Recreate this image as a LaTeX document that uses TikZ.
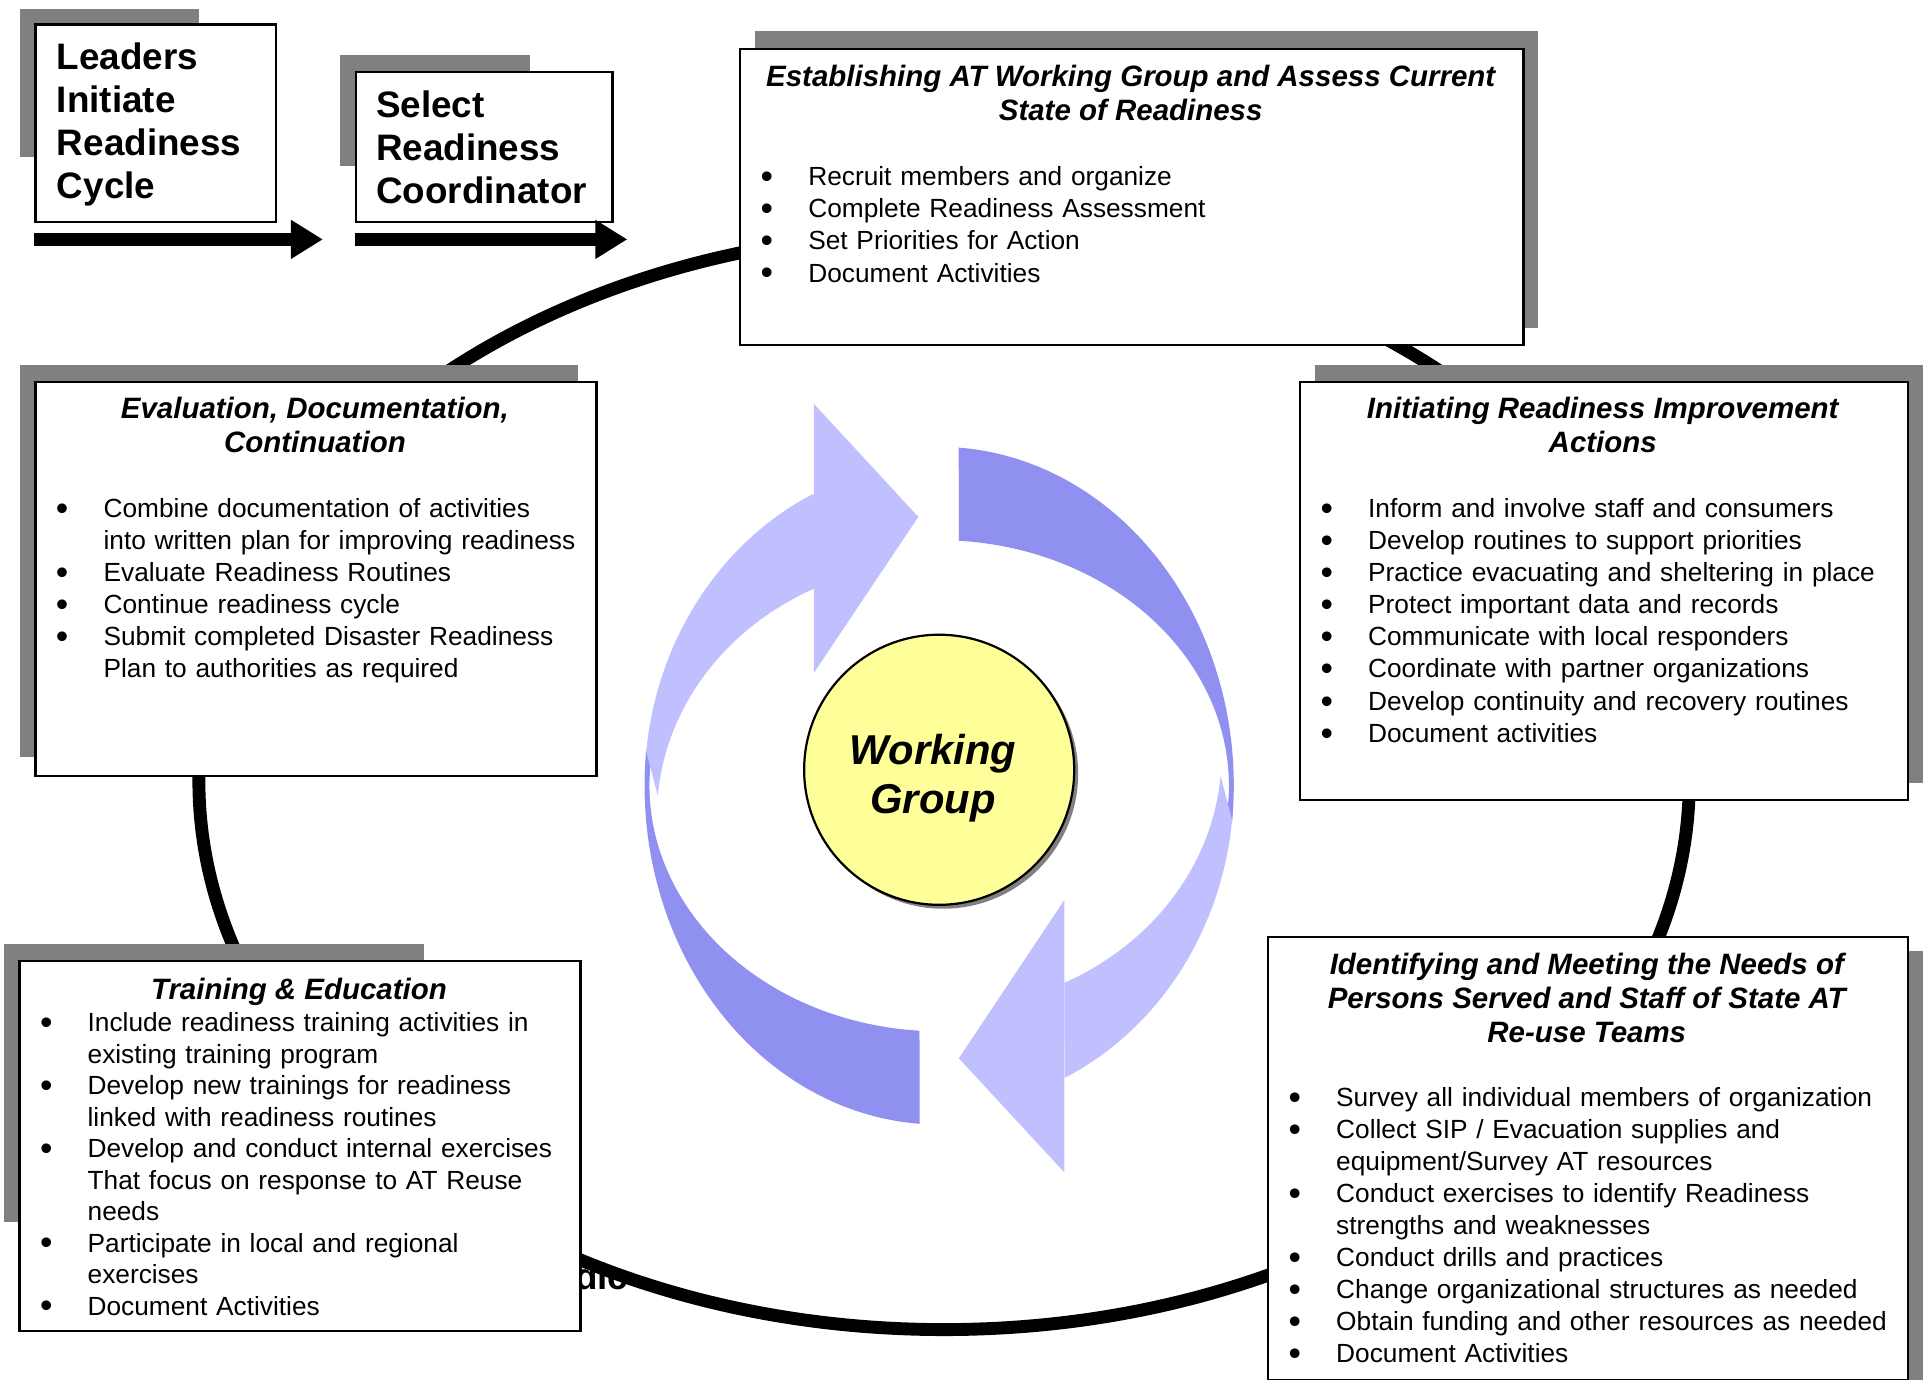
\documentclass[tikz,border=0pt]{standalone}
\usepackage{fontspec}
\setmainfont{Liberation Sans}
\usepackage{xcolor}
\usepackage{tikz}
\usetikzlibrary{arrows.meta, calc, shadows}

\definecolor{boxshade}{RGB}{128,128,128}
\definecolor{bandlight}{RGB}{192,192,255}
\definecolor{banddark}{RGB}{144,144,240}
\definecolor{wgyellow}{RGB}{255,255,153}

\newcommand{\bodysize}{\fontsize{10.7}{13.1}\selectfont}
\newcommand{\dotmark}{\raisebox{-1.2pt}{\scalebox{1.35}{\textbullet}}}
\newcommand{\bpoint}[1]{\hangindent=28pt\hangafter=1\noindent\rule{0pt}{9pt}\hspace*{8.6pt}\makebox[19.4pt][l]{\dotmark}#1\par}

\tikzstyle{phase} = [rectangle, draw, line width=0.9pt, fill=white, anchor=north west, inner sep=0pt]
\tikzstyle{shadowbox} = [fill=boxshade]
\tikzstyle{leadtext} = [anchor=north west, inner sep=0pt, align=left, font=\fontsize{15}{17.5}\selectfont\bfseries]
\tikzstyle{headtext} = [anchor=north, inner sep=0pt, align=center, font=\fontsize{12}{13.75}\selectfont\bfseries\itshape]
\tikzstyle{listtext} = [anchor=north west, inner sep=0pt, align=left, font=\bodysize]
\tikzstyle{blockarrow} = [line width=5pt, -{Triangle[length=13pt,width=15pt]}]
\tikzstyle{cyclering} = [line width=5.25pt]
\tikzstyle{wgcircle} = [circle, draw, line width=0.9pt, fill=wgyellow, minimum size=110pt, inner sep=0pt, drop shadow={shadow xshift=1.6pt, shadow yshift=-1.6pt, fill=boxshade, opacity=1}]

\begin{document}
\begin{tikzpicture}[x=0.5pt, y=-0.5pt]
    \useasboundingbox (0,0) rectangle (1568,1124);

    % words left over behind the training box
    \node[anchor=base west, inner sep=0pt, font=\fontsize{15}{17.5}\selectfont\bfseries] (frag) at (468,1050) {dic};

    % the big cycle behind the boxes
    \draw[cyclering] (769,636) ellipse [x radius=607, y radius=447];

    % shadows
    \fill[shadowbox] (16,7) rectangle (162,128);
    \fill[shadowbox] (277,45) rectangle (432,135);
    \fill[shadowbox] (615,25) rectangle (1253,267);
    \fill[shadowbox] (16,297) rectangle (471,617);
    \fill[shadowbox] (1071,297) rectangle (1566,638);
    \fill[shadowbox] (3,769) rectangle (345,995);
    \fill[shadowbox] (1045,775) rectangle (1566,1140);

    % boxes
    \node (leaders) [phase, minimum width=98pt, minimum height=80.5pt] at (28,19) {};
    \node (select) [phase, minimum width=104.5pt, minimum height=61pt] at (289,58) {};
    \node (estab) [phase, minimum width=319pt, minimum height=120.5pt] at (602,39) {};
    \node (evalu) [phase, minimum width=228.5pt, minimum height=160.5pt] at (28,310) {};
    \node (initi) [phase, minimum width=247.5pt, minimum height=170.5pt] at (1058,310) {};
    \node (train) [phase, minimum width=228.5pt, minimum height=150.5pt] at (15,782) {};
    \node (ident) [phase, minimum width=260.5pt, minimum height=180.5pt] at (1032,762) {};

    % start of the cycle
    \node (leaderstxt) [leadtext] at (46,32.5) {\rule{0pt}{12pt}Leaders\\Initiate\\Readiness\\Cycle};
    \node (selecttxt) [leadtext] at (306,71.5) {\rule{0pt}{12pt}Select\\Readiness\\Coordinator};
    \coordinate (a1s) at (28,195);
    \coordinate (a1e) at (263,195);
    \coordinate (a2s) at (289,195);
    \coordinate (a2e) at (511,195);
    \draw[blockarrow] (a1s) -- (a1e);
    \draw[blockarrow] (a2s) -- (a2e);

    % phase texts
    \node (esthead) [headtext] at (921,50) {\rule{0pt}{10pt}Establishing AT Working Group and Assess Current\\State of Readiness};
    \node (estlist) [listtext, text width=319pt] at (602,132.7) {%
        \bpoint{Recruit members and organize}
        \bpoint{Complete Readiness Assessment}
        \bpoint{Set Priorities for Action}
        \bpoint{Document Activities}};

    \node (evalhead) [headtext] at (256.5,320.5) {\rule{0pt}{10pt}Evaluation, Documentation,\\Continuation};
    \node (evallist) [listtext, text width=228.5pt] at (28,402.8) {%
        \bpoint{Combine documentation of activities\newline into written plan for improving readiness}
        \bpoint{Evaluate Readiness Routines}
        \bpoint{Continue readiness cycle}
        \bpoint{Submit completed Disaster Readiness\newline Plan to authorities as required}};

    \node (inithead) [headtext] at (1305.5,320.5) {\rule{0pt}{10pt}Initiating Readiness Improvement\\Actions};
    \node (initlist) [listtext, text width=247.5pt] at (1058,402.8) {%
        \bpoint{Inform and involve staff and consumers}
        \bpoint{Develop routines to support priorities}
        \bpoint{Practice evacuating and sheltering in place}
        \bpoint{Protect important data and records}
        \bpoint{Communicate with local responders}
        \bpoint{Coordinate with partner organizations}
        \bpoint{Develop continuity and recovery routines}
        \bpoint{Document activities}};

    \node (trainhead) [headtext] at (243.5,793.5) {\rule{0pt}{10pt}Training \& Education};
    \node (trainlist) [listtext, text width=228.5pt, font=\fontsize{10.7}{12.83}\selectfont] at (15,821.8) {%
        \bpoint{Include readiness training activities in\newline existing training program}
        \bpoint{Develop new trainings for readiness\newline linked with readiness routines}
        \bpoint{Develop and conduct internal exercises\newline That focus on response to AT Reuse\newline needs}
        \bpoint{Participate in local and regional\newline exercises}
        \bpoint{Document Activities}};

    \node (identhead) [headtext] at (1292.5,773.5) {\rule{0pt}{10pt}Identifying and Meeting the Needs of\\Persons Served and Staff of State AT\\Re-use Teams};
    \node (identlist) [listtext, text width=260.5pt, font=\fontsize{10.7}{13.05}\selectfont] at (1032,882.8) {%
        \bpoint{Survey all individual members of organization}
        \bpoint{Collect SIP / Evacuation supplies and\newline equipment/Survey AT resources}
        \bpoint{Conduct exercises to identify Readiness\newline strengths and weaknesses}
        \bpoint{Conduct drills and practices}
        \bpoint{Change organizational structures as needed}
        \bpoint{Obtain funding and other resources as needed}
        \bpoint{Document Activities}};

    % working group with the turning arrows
    \coordinate (hub) at (765,640);
    \fill[banddark] ($(hub)+(273.8:240 and 276)$) arc[start angle=273.8, end angle=366.1, x radius=240, y radius=276]
        -- ($(hub)+(6.1:236 and 200)$) arc[start angle=6.1, end angle=-86.1, x radius=236, y radius=200] -- cycle;
    \fill[banddark] ($(hub)+(93.8:240 and 276)$) arc[start angle=93.8, end angle=186.1, x radius=240, y radius=276]
        -- ($(hub)+(186.1:236 and 200)$) arc[start angle=186.1, end angle=93.9, x radius=236, y radius=200] -- cycle;
    \fill[bandlight] ($(hub)+(244.8:240 and 263)$) arc[start angle=244.8, end angle=186.1, x radius=240, y radius=263]
        -- ($(hub)+(0,25)+(184.7:230 and 207)$) arc[start angle=184.7, end angle=243.7, x radius=230, y radius=207] -- cycle;
    \fill[bandlight] (663,329) -- (748,421) -- (663,548) -- cycle;
    \fill[bandlight] ($(hub)+(64.8:240 and 263)$) arc[start angle=64.8, end angle=6.1, x radius=240, y radius=263]
        -- ($(hub)+(0,-25)+(4.7:230 and 207)$) arc[start angle=4.7, end angle=63.7, x radius=230, y radius=207] -- cycle;
    \fill[bandlight] (867,733) -- (781,862) -- (867,955) -- cycle;

    \node (wg) [wgcircle] at (765,627) {};
    \node (wgtxt) [anchor=north, inner sep=0pt, align=center, font=\fontsize{17}{20}\selectfont\bfseries\itshape] at (760,594) {\rule{0pt}{14pt}Working\\Group};
\end{tikzpicture}
\end{document}
